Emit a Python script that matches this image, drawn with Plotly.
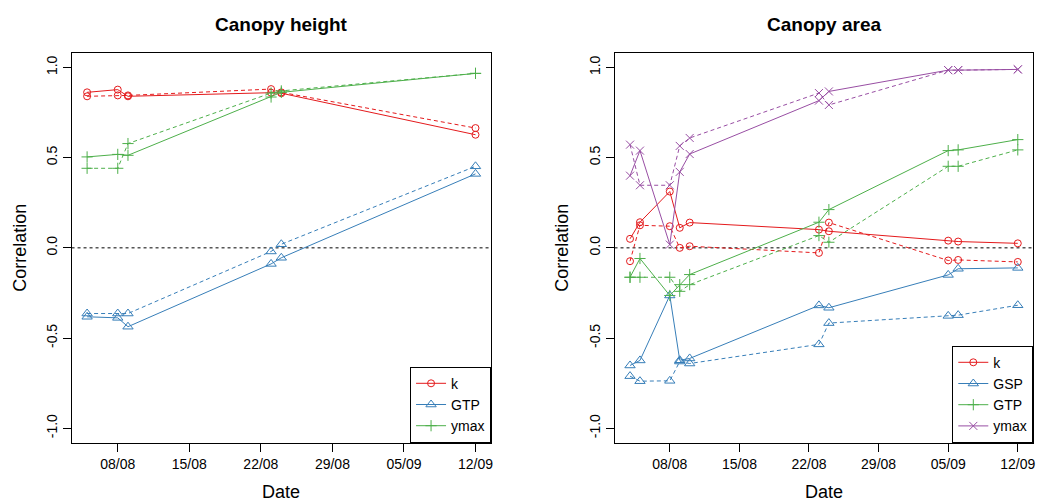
import plotly.graph_objects as go
import pandas as pd

# ---------------- data ----------------
dates_h = ["2019-08-05", "2019-08-08", "2019-08-09", "2019-08-23", "2019-08-24", "2019-09-12"]
h_k_solid = [0.862, 0.877, 0.840, 0.860, 0.857, 0.627]
h_k_dash = [0.840, 0.845, 0.845, 0.880, 0.862, 0.664]
h_gtp_solid = [-0.382, -0.388, -0.437, -0.089, -0.055, 0.410]
h_gtp_dash = [-0.364, -0.364, -0.364, -0.020, 0.020, 0.452]
h_ymax_solid = [0.504, 0.518, 0.513, 0.836, 0.862, 0.967]
h_ymax_dash = [0.441, 0.441, 0.578, 0.858, 0.870, 0.967]

dates_a = ["2019-08-04", "2019-08-05", "2019-08-08", "2019-08-09", "2019-08-10",
           "2019-08-23", "2019-08-24", "2019-09-05", "2019-09-06", "2019-09-12"]
a_k_solid = [0.050, 0.142, 0.312, 0.111, 0.140, 0.101, 0.092, 0.040, 0.035, 0.025]
a_k_dash = [-0.074, 0.125, 0.120, 0.000, 0.009, -0.028, 0.140, -0.070, -0.067, -0.078]
a_gsp_solid = [-0.652, -0.624, -0.264, -0.623, -0.613, -0.319, -0.332, -0.150, -0.116, -0.111]
a_gsp_dash = [-0.711, -0.739, -0.737, -0.630, -0.641, -0.535, -0.417, -0.377, -0.373, -0.318]
a_gtp_solid = [-0.163, -0.059, -0.264, -0.204, -0.148, 0.142, 0.212, 0.539, 0.543, 0.600]
a_gtp_dash = [-0.163, -0.163, -0.163, -0.241, -0.204, 0.068, 0.031, 0.452, 0.452, 0.543]
a_ymax_solid = [0.400, 0.539, 0.018, 0.421, 0.520, 0.816, 0.867, 0.985, 0.985, 0.989]
a_ymax_dash = [0.572, 0.347, 0.347, 0.565, 0.609, 0.858, 0.792, 0.985, 0.985, 0.989]

x_tickvals = ["2019-08-08", "2019-08-15", "2019-08-22", "2019-08-29", "2019-09-05", "2019-09-12"]
x_ticktext = ["08/08", "15/08", "22/08", "29/08", "05/09", "12/09"]
y_tickvals = [-1.0, -0.5, 0.0, 0.5, 1.0]
y_ticktext = ["-1.0", "-0.5", "0.0", "0.5", "1.0"]

# ---------------- styles ----------------
RED, BLUE, GREEN, PURPLE = "#E41A1C", "#377EB8", "#4DAF4A", "#984EA3"
FONT = "Liberation Sans, Arial, Helvetica, sans-serif"
W, H = 1040, 501
# symbols follow the series position (R pch 1, 2, 3, 4)
SYMS = [("circle-open", 7), ("triangle-up-open", 9), ("cross-thin-open", 8), ("x-thin-open", 8)]

fig = go.Figure()


def add(xv, yv, name, color, pos, dashed, xa, ya, legend):
    s, sz = SYMS[pos]
    fig.add_trace(go.Scatter(
        x=pd.to_datetime(xv), y=yv, mode="lines+markers", name=name,
        line=dict(color=color, width=1, dash="4px,3px" if dashed else "solid"),
        marker=dict(symbol=s, size=sz, color=color, line=dict(color=color, width=1)),
        xaxis=xa, yaxis=ya, legend=legend, showlegend=not dashed))


# panel 1 : canopy height
add(dates_h, h_k_solid, "k", RED, 0, False, "x", "y", "legend")
add(dates_h, h_k_dash, "k", RED, 0, True, "x", "y", "legend")
add(dates_h, h_gtp_solid, "GTP", BLUE, 1, False, "x", "y", "legend")
add(dates_h, h_gtp_dash, "GTP", BLUE, 1, True, "x", "y", "legend")
add(dates_h, h_ymax_solid, "ymax", GREEN, 2, False, "x", "y", "legend")
add(dates_h, h_ymax_dash, "ymax", GREEN, 2, True, "x", "y", "legend")

# panel 2 : canopy area
add(dates_a, a_k_solid, "k", RED, 0, False, "x2", "y2", "legend2")
add(dates_a, a_k_dash, "k", RED, 0, True, "x2", "y2", "legend2")
add(dates_a, a_gsp_solid, "GSP", BLUE, 1, False, "x2", "y2", "legend2")
add(dates_a, a_gsp_dash, "GSP", BLUE, 1, True, "x2", "y2", "legend2")
add(dates_a, a_gtp_solid, "GTP", GREEN, 2, False, "x2", "y2", "legend2")
add(dates_a, a_gtp_dash, "GTP", GREEN, 2, True, "x2", "y2", "legend2")
add(dates_a, a_ymax_solid, "ymax", PURPLE, 3, False, "x2", "y2", "legend2")
add(dates_a, a_ymax_dash, "ymax", PURPLE, 3, True, "x2", "y2", "legend2")


def xrange(dates):
    d = pd.to_datetime(dates)
    lo, hi = d.min(), d.max()
    e = (hi - lo) * 0.04
    return [lo - e, hi + e]


dx1 = [71.7 / W, 492.0 / W]
dx2 = [615.7 / W, 1035.3 / W]
dy = [(H - 442.7) / H, (H - 53.0) / H]

ax_common = dict(showline=True, mirror=True, linecolor="black", linewidth=1,
                 ticks="outside", ticklen=8, tickwidth=1, tickcolor="black",
                 showgrid=False, zeroline=False,
                 tickfont=dict(family=FONT, size=14, color="black"))

leg_common = dict(xanchor="right", yanchor="bottom", y=dy[0],
                  bgcolor="white", bordercolor="black", borderwidth=1,
                  font=dict(family=FONT, size=14, color="black"),
                  tracegroupgap=0, itemwidth=30)

fig.update_layout(
    width=W, height=H, margin=dict(l=0, r=0, t=0, b=0),
    paper_bgcolor="white", plot_bgcolor="white",
    font=dict(family=FONT, color="black"),
    xaxis=dict(domain=dx1, type="date", range=xrange(dates_h), anchor="y",
               tickvals=pd.to_datetime(x_tickvals), ticktext=x_ticktext, **ax_common),
    yaxis=dict(domain=dy, range=[-1.08, 1.08], anchor="x",
               tickvals=y_tickvals, ticktext=y_ticktext, tickangle=-90, **ax_common),
    xaxis2=dict(domain=dx2, type="date", range=xrange(dates_a), anchor="y2",
                tickvals=pd.to_datetime(x_tickvals), ticktext=x_ticktext, **ax_common),
    yaxis2=dict(domain=dy, range=[-1.08, 1.08], anchor="x2",
                tickvals=y_tickvals, ticktext=y_ticktext, tickangle=-90, **ax_common),
    legend=dict(x=dx1[1], **leg_common),
    legend2=dict(x=dx2[1], **leg_common),
    showlegend=True,
)

# dashed zero reference lines
for xr, yr in (("x domain", "y"), ("x2 domain", "y2")):
    fig.add_shape(type="line", xref=xr, yref=yr, x0=0, x1=1, y0=0, y1=0,
                  line=dict(color="black", width=1, dash="3px,3px"), layer="below")

# titles and axis labels
ann = []
for d, title in ((dx1, "Canopy height"), (dx2, "Canopy area")):
    cx = (d[0] + d[1]) / 2
    ann.append(dict(text="<b>%s</b>" % title, x=cx, y=1 - 24 / H, xref="paper", yref="paper",
                    showarrow=False, xanchor="center", yanchor="middle",
                    font=dict(family=FONT, size=19, color="black")))
    ann.append(dict(text="Date", x=cx, y=1 - 492 / H, xref="paper", yref="paper",
                    showarrow=False, xanchor="center", yanchor="middle",
                    font=dict(family=FONT, size=18, color="black")))
for xp in (20, 563):
    ann.append(dict(text="Correlation", x=xp / W, y=(dy[0] + dy[1]) / 2, xref="paper", yref="paper",
                    showarrow=False, xanchor="center", yanchor="middle", textangle=-90,
                    font=dict(family=FONT, size=18, color="black")))
fig.update_layout(annotations=ann)

fig.write_html("out.html")
